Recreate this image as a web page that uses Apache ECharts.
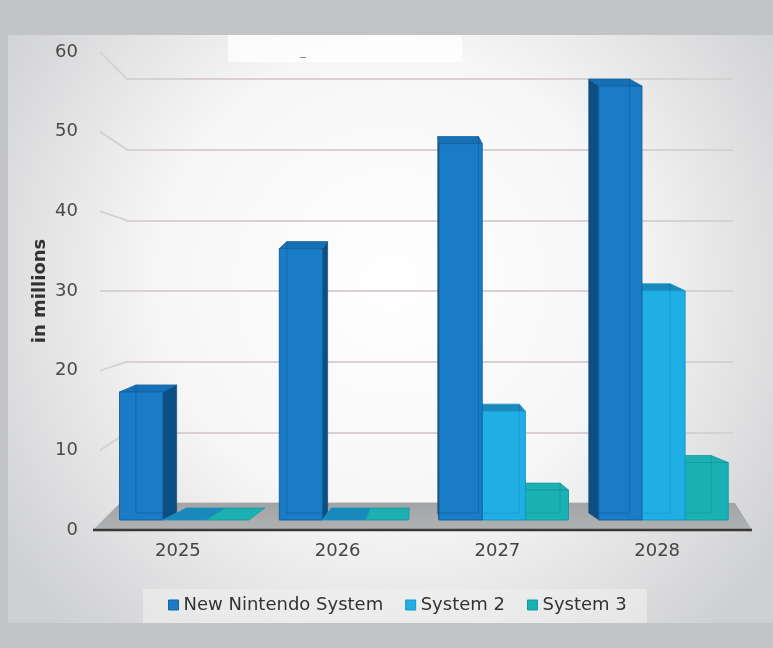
<!DOCTYPE html>
<html>
<head>
<meta charset="utf-8">
<script src="https://cdn.jsdelivr.net/npm/echarts@6/dist/echarts.min.js"></script>
<style>
html,body{margin:0;padding:0;background:#c3c4c6;}
#chart{width:773px;height:648px;}
</style>
</head>
<body>
<div id="chart"></div>
<script>
// ---- data ----
const categories = ['2025', '2026', '2027', '2028'];
const seriesNames = ['New Nintendo System', 'System 2', 'System 3'];
const nintendo = [16.7, 35.4, 49.1, 56.6];
const system2 = [0, 0, 14.2, 29.9];
const system3 = [0, 0, 3.9, 7.5];
const yTicks = [0, 10, 20, 30, 40, 50, 60];
const yAxisTitle = 'in millions';

// ---- style ----
const FONT = 'DejaVu Sans';
const VX = 416, K = 0.055, DY_TOP = 7, DY_FLAT = 12;
const palettes = [
  { front: '#1a7bc6', side: '#0e4f83', top: '#1670b6', stroke: '#15639f', inner: 'rgba(10,60,110,0.25)' },
  { front: '#1fafe5', side: '#138dc0', top: '#1889ba', stroke: '#1796c8', inner: 'rgba(10,90,140,0.2)' },
  { front: '#19b1b4', side: '#118a8d', top: '#1cb0b2', stroke: '#149b9e', inner: 'rgba(10,90,90,0.2)' }
];
const seriesValues = [nintendo, system2, system3];

function makeRender(si) {
  const p = palettes[si];
  return function (params, api) {
    const idx = api.value(0), v = api.value(1);
    const topPt = api.coord([idx, v]);
    const basePt = api.coord([idx, 0]);
    const cw = api.size([1, 0])[0];
    const bw = cw * 0.27;
    const gc = topPt[0] + cw * 0.04;
    const x0 = gc - 1.5 * bw + si * bw, x1 = x0 + bw;
    const yt = topPt[1], yb = basePt[1];
    const flat = yb - yt < 0.5;
    const DY = flat ? DY_FLAT : DY_TOP;
    const kk = flat ? K * DY_FLAT / DY_TOP : K;
    const bx0 = x0 + kk * (VX - x0), bx1 = x1 + kk * (VX - x1);
    const zb = gc > VX ? (40 - si * 10) : (10 + si * 10);
    const children = [];
    if (!flat && x1 < VX) {
      children.push({ type: 'polygon', z2: zb, shape: { points: [[x1, yt], [bx1, yt - DY], [bx1, yb - DY], [x1, yb]] },
        style: { fill: p.side, stroke: p.side, lineWidth: 0.5 } });
    } else if (!flat && x0 > VX) {
      children.push({ type: 'polygon', z2: zb, shape: { points: [[x0, yt], [bx0, yt - DY], [bx0, yb - DY], [x0, yb]] },
        style: { fill: p.side, stroke: p.side, lineWidth: 0.5 } });
    }
    children.push({ type: 'polygon', z2: zb + 1, shape: { points: [[x0, yt], [x1, yt], [bx1, yt - DY], [bx0, yt - DY]] },
      style: { fill: p.top, stroke: p.stroke, lineWidth: 0.8 } });
    if (!flat) {
      children.push({ type: 'rect', z2: zb + 2, shape: { x: x0, y: yt, width: bw, height: yb - yt },
        style: { fill: p.front, stroke: p.stroke, lineWidth: 1 } });
      children.push({ type: 'polyline', z2: zb + 3, shape: { points: [[bx0, yt - DY], [bx0, yb - DY], [bx1, yb - DY], [bx1, yt - DY]] },
        style: { fill: null, stroke: p.inner, lineWidth: 1 } });
    }
    return { type: 'group', children: children };
  };
}

const chart = echarts.init(document.getElementById('chart'));

const barSeries = seriesValues.map((vals, si) => ({
  type: 'custom',
  name: seriesNames[si],
  xAxisIndex: 2,
  yAxisIndex: 2,
  z: 3,
  itemStyle: { color: palettes[si].front },
  encode: { x: 0, y: 1 },
  data: vals.map((v, i) => [i, v]),
  renderItem: makeRender(si)
}));

const option = {
  backgroundColor: '#c3c4c6',
  animation: false,
  textStyle: { fontFamily: FONT },
  grid: [
    { left: 98, right: 36, top: 52, bottom: 118 },   // front (labels)
    { left: 126, right: 40, top: 79, bottom: 145 },  // back wall
    { left: 98, right: 36, top: 60, bottom: 128 }    // bars
  ],
  xAxis: [
    { type: 'category', gridIndex: 0, data: categories,
      axisLine: { show: false }, axisTick: { show: false },
      axisLabel: { color: '#454545', fontSize: 18, margin: 12, fontFamily: FONT } },
    { type: 'category', gridIndex: 1, data: categories, show: false },
    { type: 'category', gridIndex: 2, data: categories, show: false }
  ],
  yAxis: [
    { type: 'value', gridIndex: 0, min: 0, max: 60, interval: 10,
      name: yAxisTitle, nameLocation: 'middle', nameRotate: 90, nameGap: 49, nameMoveOverlap: false,
      nameTextStyle: { fontSize: 18, fontWeight: 'bold', color: '#333', fontFamily: FONT },
      axisLine: { show: false }, axisTick: { show: false }, splitLine: { show: false },
      axisLabel: { color: '#4a4a4a', fontSize: 18, margin: 20, fontFamily: FONT } },
    { type: 'value', gridIndex: 1, min: 0, max: 60, interval: 10,
      axisLine: { show: false }, axisTick: { show: false }, axisLabel: { show: false },
      splitLine: { show: true, lineStyle: { color: '#d9d1cf', width: 2 } } },
    { type: 'value', gridIndex: 2, min: 0, max: 60, show: false }
  ],
  legend: {
    data: seriesNames.map((n, i) => ({ name: n, itemStyle: { borderColor: palettes[i].stroke, borderWidth: 1 } })),
    left: 143, top: 589,
    icon: 'rect', itemWidth: 10, itemHeight: 10, itemGap: 22,
    padding: [7, 20, 9, 25],
    backgroundColor: 'rgba(240,240,240,0.6)',
    textStyle: { fontSize: 18, color: '#333', fontFamily: FONT }
  },
  series: barSeries
};

chart.setOption(option);

// decorations derived from the axes' own scales
const frontY = v => chart.convertToPixel({ yAxisIndex: 0 }, v);
const backY = v => chart.convertToPixel({ yAxisIndex: 1 }, v);
const g = [];
g.push({ type: 'rect', z: -20, silent: true, shape: { x: 8, y: 35, width: 765, height: 588 },
  style: { fill: { type: 'radial', x: 0.5, y: 0.42, r: 0.8, colorStops: [
    { offset: 0, color: '#ffffff' }, { offset: 0.5, color: '#f6f6f6' }, { offset: 1, color: '#cfd0d2' }] } } });
g.push({ type: 'rect', z: -19, silent: true, shape: { x: 228, y: 35, width: 234, height: 27 },
  style: { fill: 'rgba(255,255,255,0.75)' } });
g.push({ type: 'text', z: -18, silent: true, x: 300, y: 46, style: { text: '_', fill: '#777', font: '12px ' + FONT } });
yTicks.forEach(v => {
  if (v === 0) return;
  g.push({ type: 'line', z: 1, silent: true,
    shape: { x1: 100, y1: frontY(v), x2: 127, y2: backY(v) },
    style: { stroke: '#d9d1cf', lineWidth: 2 } });
});
const f0 = frontY(0), b0 = backY(0);
g.push({ type: 'polygon', z: 1, silent: true,
  shape: { points: [[93, f0], [752, f0], [735, b0], [120, b0]] },
  style: { fill: { type: 'linear', x: 0, y: 0, x2: 0, y2: 1, colorStops: [
    { offset: 0, color: '#a3a4a6' }, { offset: 1, color: '#b0b1b3' }] } } });
g.push({ type: 'line', z: 4, silent: true, shape: { x1: 93, y1: f0, x2: 752, y2: f0 },
  style: { stroke: '#383838', lineWidth: 2.5 } });
chart.setOption({ graphic: g });
</script>
</body>
</html>
